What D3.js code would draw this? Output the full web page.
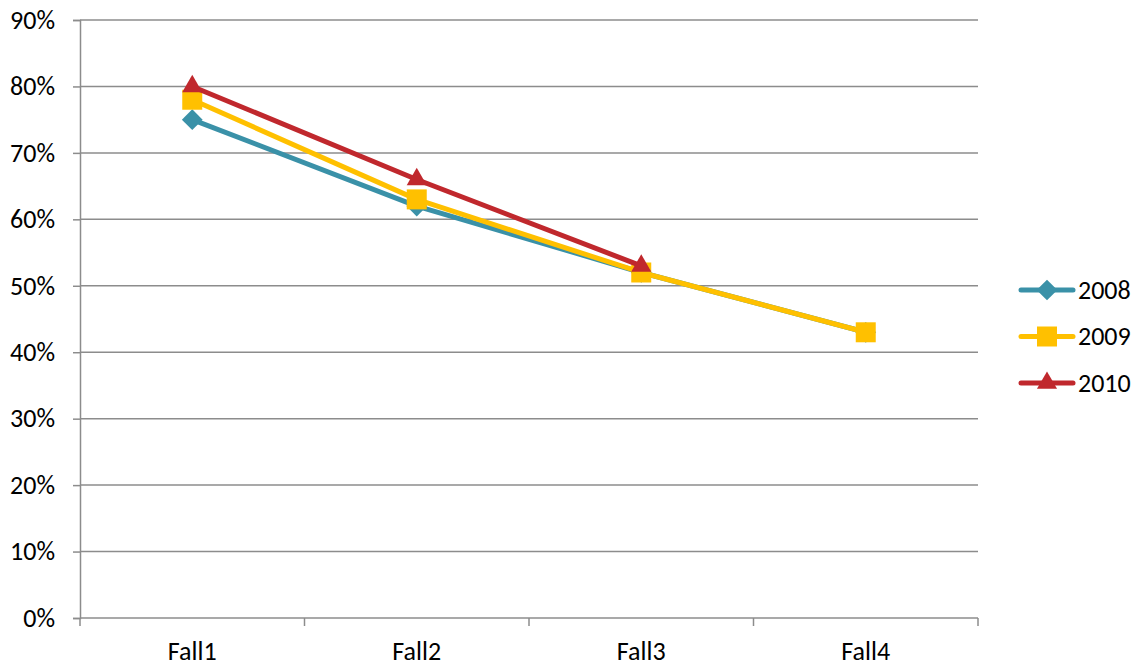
<!DOCTYPE html>
<html>
<head>
<meta charset="utf-8">
<script src="https://cdn.jsdelivr.net/npm/d3@7"></script>
<style>
  body { margin: 0; background: #fff; }
  text { font-family: Carlito, "Open Sans", "Liberation Sans", sans-serif; fill: #000; }
</style>
</head>
<body>
<script>
const categories = ["Fall1", "Fall2", "Fall3", "Fall4"];
const seriesNames = ["2008", "2009", "2010"];
const values2008 = [75, 62, 52, 43];
const values2009 = [78, 63, 52, 43];
const values2010 = [80, 66, 53, null];
const yTicks = [0, 10, 20, 30, 40, 50, 60, 70, 80, 90];
const colors = ["#3A91A8", "#FFC000", "#C0282D"];

const W = 1144, H = 668;
const margin = {top: 20, right: 166, bottom: 50, left: 80};
const width = W - margin.left - margin.right, height = H - margin.top - margin.bottom;

const svg = d3.select("body").append("svg").attr("width", W).attr("height", H);
const g = svg.append("g").attr("transform", "translate(" + margin.left + "," + margin.top + ")");

const x = d3.scaleBand().domain(categories).range([0, width]);
const y = d3.scaleLinear().domain([0, 90]).range([height, 0]);

// marker shapes: diamond (rotated square), square, triangle
const markers = [
  sel => sel.append("path").attr("d", d3.symbol().type(d3.symbolSquare).size(215)).attr("transform", "rotate(45)"),
  sel => sel.append("path").attr("d", d3.symbol().type(d3.symbolSquare).size(400)),
  sel => sel.append("path").attr("d", d3.symbol().type(d3.symbolTriangle).size(175))
];

// gridlines
g.selectAll(".grid").data(yTicks.slice(1)).enter().append("line")
  .attr("x1", 0).attr("x2", width)
  .attr("y1", d => y(d)).attr("y2", d => y(d))
  .attr("stroke", "#8c8c8c").attr("stroke-width", 1.5);

// y axis
const yAxis = g.append("g").call(d3.axisLeft(y).tickValues(yTicks).tickFormat(d => d + "%").tickSize(7).tickPadding(18));
yAxis.select(".domain").attr("stroke", "#8c8c8c").attr("stroke-width", 1.5);
yAxis.selectAll(".tick line").attr("stroke", "#8c8c8c").attr("stroke-width", 1.5);
yAxis.selectAll("text").style("font-size", "26px").attr("x", -25);

// x axis
const xAxis = g.append("g").attr("transform", "translate(0," + height + ")")
  .call(d3.axisBottom(x).tickSize(0).tickPadding(24));
xAxis.select(".domain").remove();
xAxis.append("line").attr("x1", 0).attr("x2", width).attr("stroke", "#8c8c8c").attr("stroke-width", 1.5);
xAxis.selectAll(".sep").data(d3.range(categories.length + 1)).enter().append("line")
  .attr("x1", i => i * x.step()).attr("x2", i => i * x.step())
  .attr("y1", 0).attr("y2", 8)
  .attr("stroke", "#8c8c8c").attr("stroke-width", 1.5);
xAxis.selectAll("text").style("font-size", "26px");

const allSeries = [values2008, values2009, values2010];
const line = d3.line()
  .defined(d => d != null)
  .x((d, i) => x(categories[i]) + x.bandwidth() / 2)
  .y(d => y(d));

allSeries.forEach((vals, s) => {
  g.append("path").datum(vals)
    .attr("fill", "none").attr("stroke", colors[s]).attr("stroke-width", 5)
    .attr("stroke-linejoin", "round")
    .attr("d", line);
  g.selectAll(".m" + s).data(vals.map((v, i) => ({v, i})).filter(d => d.v != null)).enter()
    .append("g")
    .attr("transform", d => "translate(" + (x(categories[d.i]) + x.bandwidth() / 2) + "," + y(d.v) + ")")
    .attr("fill", colors[s])
    .each(function () { markers[s](d3.select(this)); });
});

// legend
const legend = svg.append("g").attr("transform", "translate(1021,290)");
seriesNames.forEach((name, s) => {
  const row = legend.append("g").attr("transform", "translate(0," + (s * 46.5) + ")");
  row.append("line").attr("x1", 0).attr("x2", 52).attr("stroke", colors[s])
    .attr("stroke-width", 5).attr("stroke-linecap", "round");
  const m = row.append("g").attr("transform", "translate(26,0)").attr("fill", colors[s]);
  markers[s](m);
  row.append("text").attr("x", 57).attr("dy", "0.34em").style("font-size", "26px").text(name);
});
</script>
</body>
</html>
